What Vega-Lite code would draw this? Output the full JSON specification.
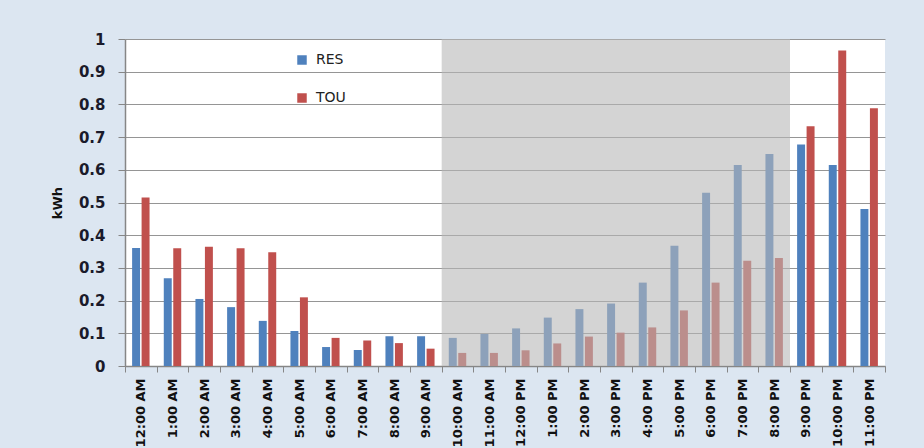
{
  "$schema": "https://vega.github.io/schema/vega-lite/v6.json",
  "autosize": {"type": "none"},
  "width": 760,
  "height": 327,
  "padding": {"left": 125, "top": 39, "right": 39, "bottom": 82},
  "background": "#DCE6F1",
  "config": {
    "view": {"fill": "white", "stroke": null},
    "font": "DejaVu Sans"
  },
  "data": {
    "values": [
      {"hour": "12:00 AM", "series": "RES", "kwh": 0.361},
      {"hour": "12:00 AM", "series": "TOU", "kwh": 0.515},
      {"hour": "1:00 AM", "series": "RES", "kwh": 0.268},
      {"hour": "1:00 AM", "series": "TOU", "kwh": 0.36},
      {"hour": "2:00 AM", "series": "RES", "kwh": 0.205},
      {"hour": "2:00 AM", "series": "TOU", "kwh": 0.365},
      {"hour": "3:00 AM", "series": "RES", "kwh": 0.18},
      {"hour": "3:00 AM", "series": "TOU", "kwh": 0.36},
      {"hour": "4:00 AM", "series": "RES", "kwh": 0.138},
      {"hour": "4:00 AM", "series": "TOU", "kwh": 0.348},
      {"hour": "5:00 AM", "series": "RES", "kwh": 0.107},
      {"hour": "5:00 AM", "series": "TOU", "kwh": 0.21},
      {"hour": "6:00 AM", "series": "RES", "kwh": 0.058},
      {"hour": "6:00 AM", "series": "TOU", "kwh": 0.086},
      {"hour": "7:00 AM", "series": "RES", "kwh": 0.049},
      {"hour": "7:00 AM", "series": "TOU", "kwh": 0.078},
      {"hour": "8:00 AM", "series": "RES", "kwh": 0.091},
      {"hour": "8:00 AM", "series": "TOU", "kwh": 0.07},
      {"hour": "9:00 AM", "series": "RES", "kwh": 0.091},
      {"hour": "9:00 AM", "series": "TOU", "kwh": 0.053},
      {"hour": "10:00 AM", "series": "RES", "kwh": 0.086},
      {"hour": "10:00 AM", "series": "TOU", "kwh": 0.04},
      {"hour": "11:00 AM", "series": "RES", "kwh": 0.098},
      {"hour": "11:00 AM", "series": "TOU", "kwh": 0.04},
      {"hour": "12:00 PM", "series": "RES", "kwh": 0.115},
      {"hour": "12:00 PM", "series": "TOU", "kwh": 0.048},
      {"hour": "1:00 PM", "series": "RES", "kwh": 0.148},
      {"hour": "1:00 PM", "series": "TOU", "kwh": 0.069},
      {"hour": "2:00 PM", "series": "RES", "kwh": 0.174},
      {"hour": "2:00 PM", "series": "TOU", "kwh": 0.09},
      {"hour": "3:00 PM", "series": "RES", "kwh": 0.191},
      {"hour": "3:00 PM", "series": "TOU", "kwh": 0.102},
      {"hour": "4:00 PM", "series": "RES", "kwh": 0.255},
      {"hour": "4:00 PM", "series": "TOU", "kwh": 0.118},
      {"hour": "5:00 PM", "series": "RES", "kwh": 0.368},
      {"hour": "5:00 PM", "series": "TOU", "kwh": 0.17},
      {"hour": "6:00 PM", "series": "RES", "kwh": 0.53},
      {"hour": "6:00 PM", "series": "TOU", "kwh": 0.255},
      {"hour": "7:00 PM", "series": "RES", "kwh": 0.615},
      {"hour": "7:00 PM", "series": "TOU", "kwh": 0.322},
      {"hour": "8:00 PM", "series": "RES", "kwh": 0.648},
      {"hour": "8:00 PM", "series": "TOU", "kwh": 0.33},
      {"hour": "9:00 PM", "series": "RES", "kwh": 0.677},
      {"hour": "9:00 PM", "series": "TOU", "kwh": 0.733},
      {"hour": "10:00 PM", "series": "RES", "kwh": 0.615},
      {"hour": "10:00 PM", "series": "TOU", "kwh": 0.965},
      {"hour": "11:00 PM", "series": "RES", "kwh": 0.48},
      {"hour": "11:00 PM", "series": "TOU", "kwh": 0.788}
    ]
  },
  "resolve": {"axis": {"y": "independent"}},
  "layer": [
    {
      "mark": {"type": "bar"},
      "encoding": {
        "x": {
          "field": "hour",
          "type": "nominal",
          "sort": null,
          "scale": {"paddingInner": 0, "paddingOuter": 0},
          "axis": {
            "title": null,
            "labelAngle": -90,
            "labelFont": "DejaVu Sans",
            "labelFontWeight": "bold",
            "labelFontSize": 13,
            "labelColor": "#111111",
            "labelPadding": 6,
            "tickBand": "extent",
            "tickSize": 6,
            "tickColor": "#868686",
            "domainColor": "#868686",
            "domainWidth": 1.5,
            "grid": false
          }
        },
        "xOffset": {
          "field": "series",
          "type": "nominal",
          "scale": {"paddingInner": 0.16, "paddingOuter": 0.75}
        },
        "y": {
          "field": "kwh",
          "type": "quantitative",
          "scale": {"domain": [0, 1], "nice": false},
          "axis": {
            "title": "kWh",
            "titleFont": "DejaVu Sans",
            "titleFontWeight": "bold",
            "titleFontSize": 13,
            "titleColor": "#111111",
            "titlePadding": 14,
            "values": [0, 0.1, 0.2, 0.3, 0.4, 0.5, 0.6, 0.7, 0.8, 0.9, 1],
            "labelOverlap": false,
            "format": ".1~f",
            "labelFont": "DejaVu Sans",
            "labelFontWeight": "bold",
            "labelFontSize": 15,
            "labelColor": "#1a1a2a",
            "labelPadding": 13,
            "tickSize": 7,
            "tickColor": "#868686",
            "domainColor": "#868686",
            "domainWidth": 1.5,
            "gridColor": "#959595",
            "gridWidth": 1
          }
        },
        "color": {
          "field": "series",
          "type": "nominal",
          "scale": {"domain": ["RES", "TOU"], "range": ["#4F81BD", "#C0504D"]},
          "legend": {
            "title": null,
            "orient": "none",
            "legendX": 170,
            "legendY": 14,
            "padding": 0,
            "rowPadding": 24,
            "symbolType": "square",
            "symbolSize": 90,
            "symbolStrokeWidth": 0,
            "labelFont": "DejaVu Sans",
            "labelFontSize": 14,
            "labelColor": "#222222",
            "labelOffset": 7
          }
        }
      }
    },
    {
      "data": {"values": [{"start": "10:00 AM", "end": "8:00 PM"}]},
      "mark": {"type": "rect", "color": "#B7B7B7", "opacity": 0.6},
      "encoding": {
        "x": {"field": "start", "type": "nominal", "sort": null, "bandPosition": 0},
        "x2": {"field": "end", "bandPosition": 1},
        "y": {"datum": 1, "type": "quantitative", "axis": null},
        "y2": {"datum": 0}
      }
    }
  ]
}
